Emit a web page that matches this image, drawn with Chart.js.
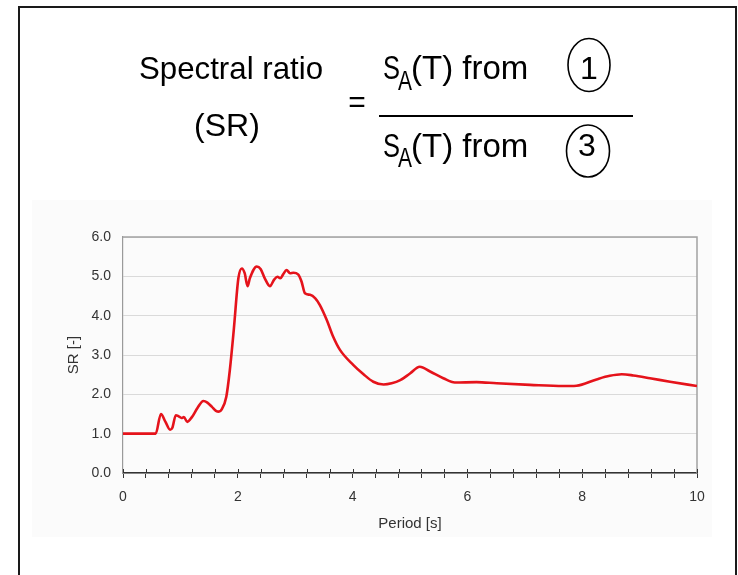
<!DOCTYPE html>
<html>
<head>
<meta charset="utf-8">
<script src="https://cdn.jsdelivr.net/npm/chart.js@4.4.1/dist/chart.umd.min.js"></script>
<style>
  html, body { margin: 0; padding: 0; background: #fff; width: 738px; height: 575px; overflow: hidden; }
  #bg { position: absolute; left: 32px; top: 200px; width: 680px; height: 337px; background: #fbfbfb; }
  #c { position: absolute; left: 0; top: 0; }
  #eq { position: absolute; left: 0; top: 0; }
  #frame { position: absolute; left: 18px; top: 6px; width: 715px; height: 600px;
           border: 2px solid #1a1a1a; border-bottom: none; }
</style>
</head>
<body>
<div id="bg"></div>
<canvas id="c" width="738" height="575"></canvas>
<svg id="eq" width="738" height="575" font-family="'Liberation Sans', Arial, Helvetica, sans-serif" fill="#000">
  <text x="231" y="79" font-size="32" text-anchor="middle" textLength="184" lengthAdjust="spacingAndGlyphs">Spectral ratio</text>
  <text x="227" y="136" font-size="32" text-anchor="middle">(SR)</text>
  <text x="357" y="112" font-size="30" text-anchor="middle">=</text>
  <line x1="379" y1="116" x2="633" y2="116" stroke="#000" stroke-width="2"/>
  <text x="383" y="79" font-size="33" textLength="17" lengthAdjust="spacingAndGlyphs">S</text>
  <text x="398" y="90" font-size="27" textLength="14" lengthAdjust="spacingAndGlyphs">A</text>
  <text x="411" y="79" font-size="33">(T) from</text>
  <ellipse cx="589" cy="65" rx="21" ry="26.5" fill="none" stroke="#000" stroke-width="1.6"/>
  <text x="589" y="79" font-size="32" text-anchor="middle">1</text>
  <text x="383" y="157" font-size="33" textLength="17" lengthAdjust="spacingAndGlyphs">S</text>
  <text x="398" y="167" font-size="27" textLength="14" lengthAdjust="spacingAndGlyphs">A</text>
  <text x="411" y="157" font-size="33">(T) from</text>
  <ellipse cx="588" cy="151" rx="21.5" ry="26" fill="none" stroke="#000" stroke-width="1.6"/>
  <text x="587" y="156" font-size="32" text-anchor="middle">3</text>
</svg>
<div id="frame"></div>
<script>
// Period T [s]
const periods = [
  0, 0.57, 0.66, 0.74, 0.82, 0.86, 0.92, 0.97, 1.02, 1.06, 1.12, 1.20, 1.30, 1.40,
  1.47, 1.55, 1.62, 1.67, 1.72, 1.80, 1.86, 1.93, 2.01, 2.07, 2.12, 2.17, 2.21,
  2.33, 2.40, 2.47, 2.56, 2.63, 2.69, 2.74, 2.79, 2.85, 2.91, 2.97, 3.05, 3.11,
  3.17, 3.26, 3.35, 3.43, 3.55, 3.66, 3.78, 4.01, 4.19, 4.36, 4.54, 4.68, 4.83,
  5.00, 5.17, 5.35, 5.58, 5.78, 6.16, 6.51, 7.09, 7.67, 7.90, 8.25, 8.48, 8.69,
  8.89, 9.18, 9.53, 10.0
];
// Spectral ratio SR [-]
const srValues = [
  1.00, 1.00, 1.50, 1.30, 1.10, 1.15, 1.47, 1.44, 1.40, 1.42, 1.30, 1.42, 1.66, 1.83,
  1.79, 1.68, 1.58, 1.56, 1.62, 1.94, 2.60, 3.64, 4.95, 5.20, 5.08, 4.75, 4.95,
  5.25, 5.18, 4.95, 4.75, 4.91, 4.99, 4.95, 5.05, 5.16, 5.08, 5.09, 5.05, 4.87,
  4.57, 4.53, 4.44, 4.27, 3.89, 3.47, 3.13, 2.75, 2.51, 2.32, 2.25, 2.28, 2.36,
  2.53, 2.70, 2.58, 2.41, 2.30, 2.31, 2.28, 2.24, 2.21, 2.22, 2.38, 2.47, 2.51,
  2.48, 2.41, 2.32, 2.21
];
const xLabelValues = [0, 2, 4, 6, 8, 10];
const xTitle = 'Period [s]';
const yTitle = 'SR [-]';

const points = periods.map((t, i) => ({ x: t, y: srValues[i] }));

const framePlugin = {
  id: 'frameLines',
  beforeDatasetsDraw(chart) {
    const { ctx, chartArea: a, scales: { x } } = chart;
    ctx.save();
    ctx.strokeStyle = '#a3a3a3';
    ctx.lineWidth = 1.5;
    ctx.beginPath();
    ctx.moveTo(a.left, a.top);
    ctx.lineTo(a.right, a.top);
    ctx.lineTo(a.right, a.bottom);
    ctx.stroke();
    ctx.strokeStyle = '#333';
    ctx.lineWidth = 1;
    ctx.beginPath();
    x.ticks.forEach((t, i) => {
      const px = Math.round(x.getPixelForTick(i)) + 0.5;
      ctx.moveTo(px, a.bottom - 4);
      ctx.lineTo(px, a.bottom);
    });
    ctx.stroke();
    ctx.restore();
  }
};

Chart.defaults.font.family = "'Liberation Sans', Arial, Helvetica, sans-serif";
Chart.defaults.color = '#333';

new Chart(document.getElementById('c'), {
  type: 'line',
  data: {
    datasets: [{
      data: points,
      borderColor: '#e5131b',
      borderWidth: 2.6,
      pointRadius: 0,
      fill: false,
      cubicInterpolationMode: 'monotone'
    }]
  },
  options: {
    responsive: false,
    animation: false,
    layout: { padding: { left: 61, top: 237, right: 41, bottom: 38 } },
    plugins: { legend: { display: false }, tooltip: { enabled: false } },
    scales: {
      x: {
        type: 'linear',
        min: 0, max: 10,
        afterFit(s) { s.height = 64; },
        ticks: {
          stepSize: 0.4,
          autoSkip: false,
          maxRotation: 0,
          padding: 11,
          font: { size: 14 },
          color: '#333',
          callback(v) {
            const hit = xLabelValues.find(l => Math.abs(l - v) < 1e-6);
            return hit === undefined ? '' : String(hit);
          }
        },
        grid: { drawOnChartArea: false, drawTicks: true, tickLength: 5, color: '#333', lineWidth: 1 },
        border: { display: true, color: '#333', width: 1.5 },
        title: { display: true, text: xTitle, font: { size: 15 }, color: '#333' }
      },
      y: {
        min: 0, max: 6,
        afterFit(s) { s.width = 62; },
        ticks: {
          stepSize: 1,
          padding: 12,
          font: { size: 14 },
          color: '#333',
          callback(v) { return Number(v).toFixed(1); }
        },
        grid: { color: '#dadada', lineWidth: 1, drawTicks: false },
        border: { display: true, color: '#9a9a9a', width: 1.2 },
        title: { display: true, text: yTitle, font: { size: 15 }, color: '#333' }
      }
    }
  },
  plugins: [framePlugin]
});
</script>
</body>
</html>
